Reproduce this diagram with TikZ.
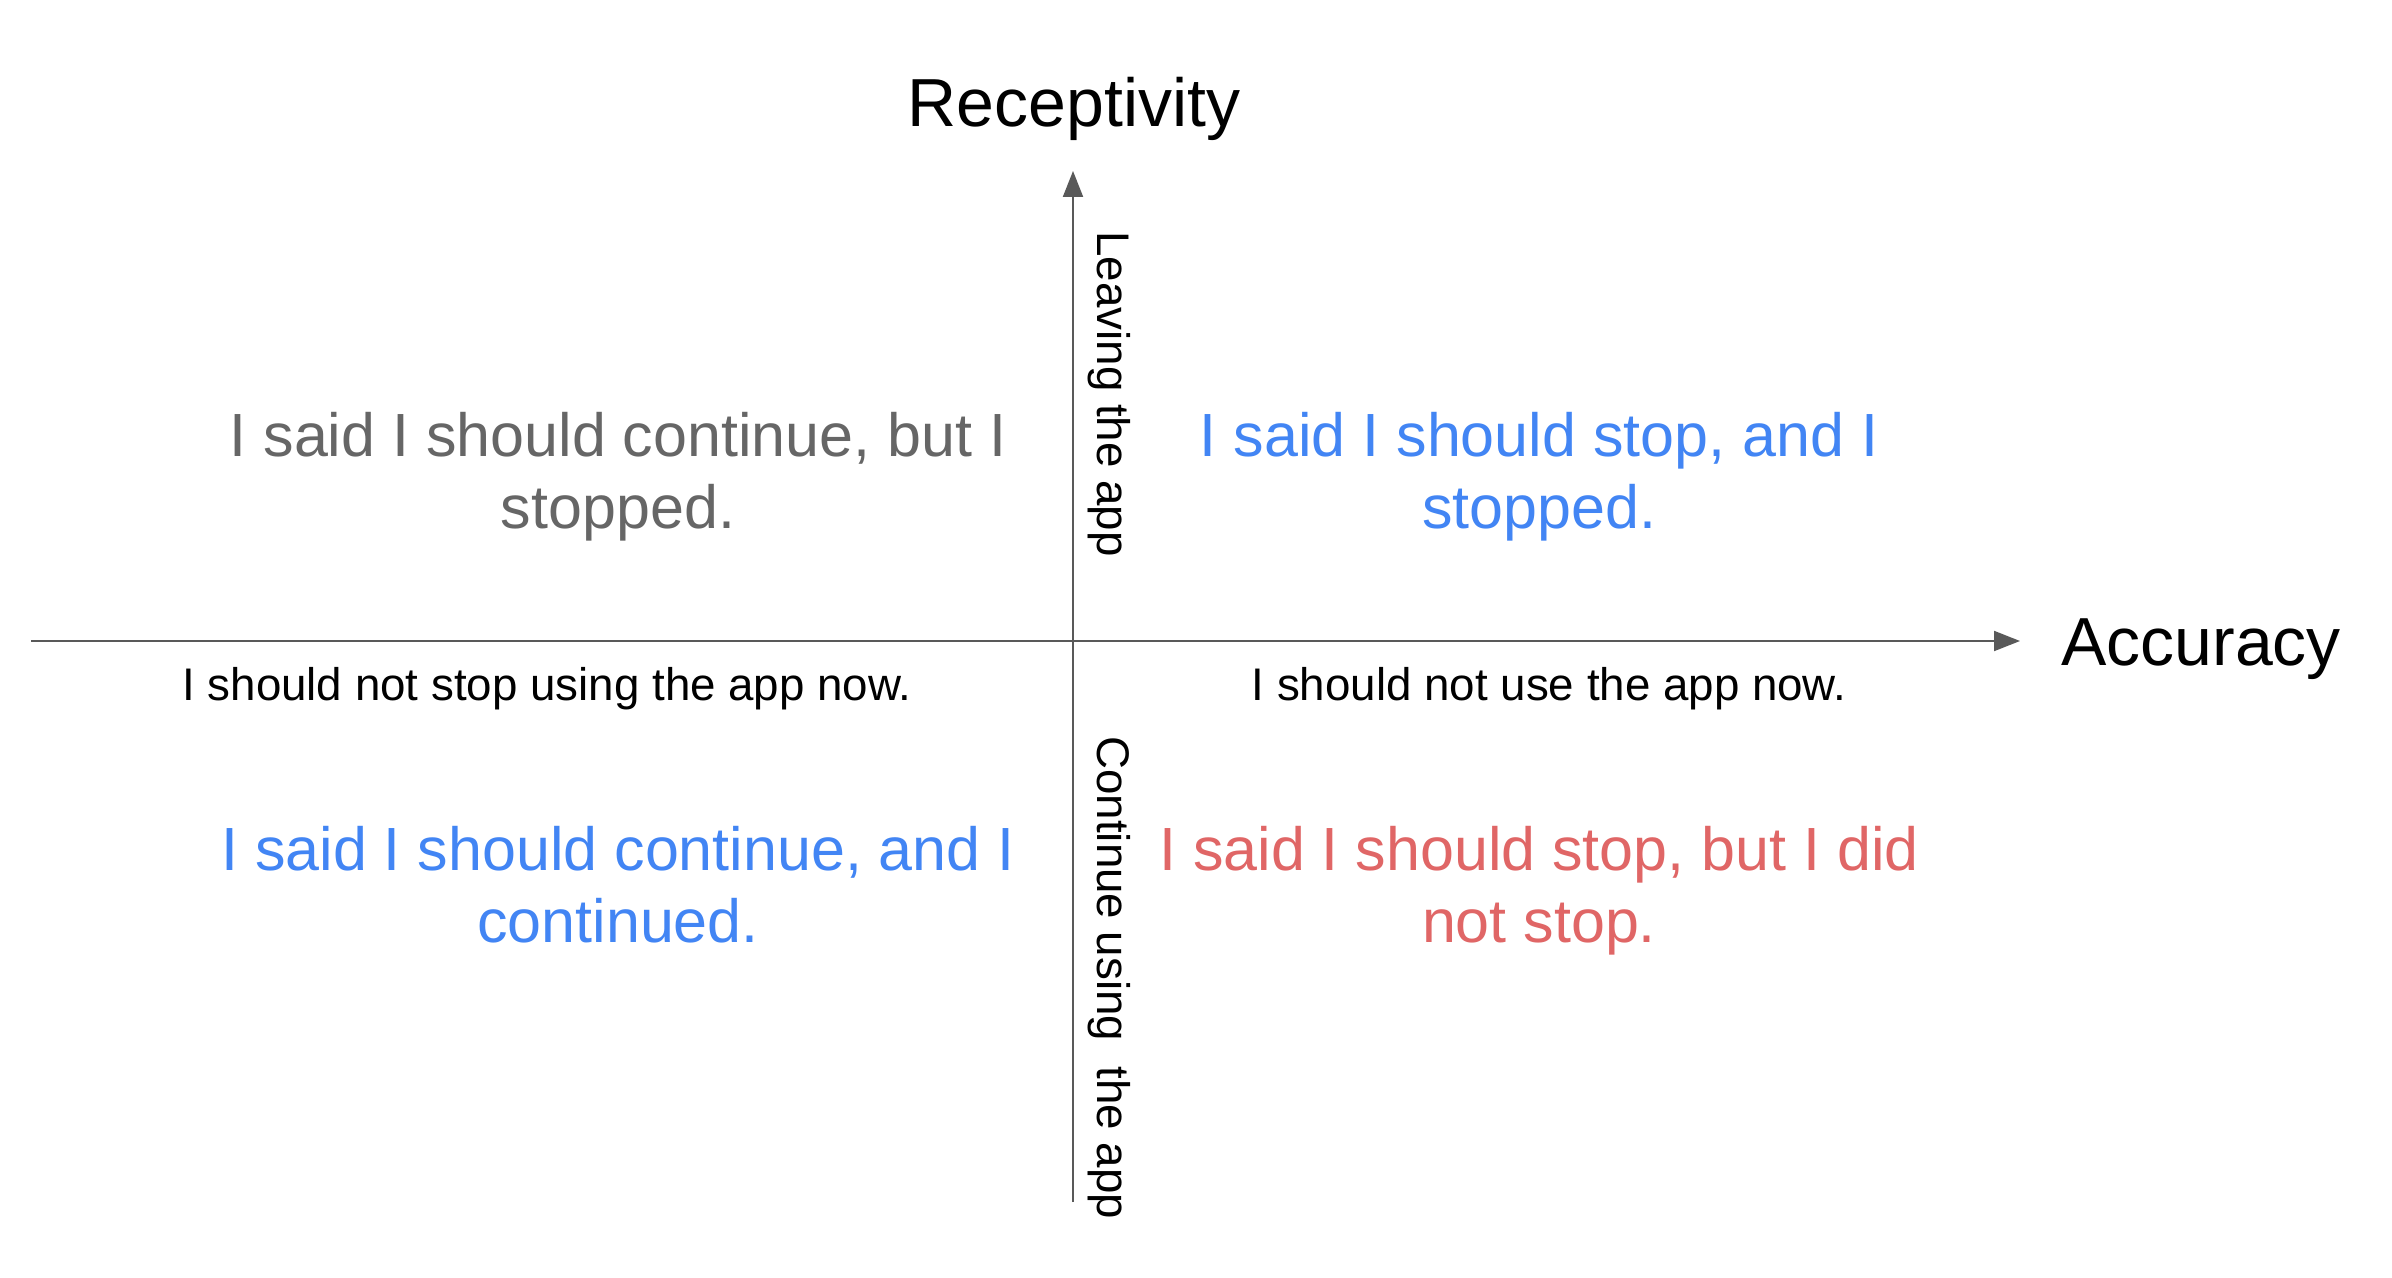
\documentclass[tikz,border=0pt]{standalone}
\usepackage{fontspec}
\setmainfont{Liberation Sans}
\usetikzlibrary{arrows.meta}
\definecolor{axisgray}{HTML}{595959}
\definecolor{quadgray}{HTML}{666666}
\definecolor{quadblue}{HTML}{4285F4}
\definecolor{quadred}{HTML}{E06666}
\tikzset{
  axisline/.style={draw=axisgray, line width=1pt, -{Triangle[length=13pt,width=10pt]}},
  axistitle/.style={inner sep=0pt, anchor=base, font=\fontsize{34pt}{40pt}\selectfont, text=black},
  quadtext/.style={inner sep=0pt, anchor=base, font=\fontsize{30.5pt}{36pt}\selectfont},
  smalltext/.style={inner sep=0pt, anchor=base, font=\fontsize{22.85pt}{27pt}\selectfont, text=black},
  sidelabel/.style={inner sep=0pt, anchor=base west, rotate=-90, font=\fontsize{22.85pt}{27pt}\selectfont, text=black},
}
\newcommand{\twolines}[2]{\setlength{\tabcolsep}{0pt}\renewcommand{\arraystretch}{1}\begin{tabular}[t]{c}#1\\#2\end{tabular}}
\begin{document}
\begin{tikzpicture}[x=0.5pt,y=-0.5pt]
  \useasboundingbox[fill=white] (0,0) rectangle (2392,1278);
  % axes
  \coordinate (hl) at (31,641);
  \coordinate (hr) at (2020,641);
  \coordinate (vb) at (1073,1202);
  \coordinate (vt) at (1073,171);
  \draw[axisline] (hl) -- (hr);
  \draw[axisline] (vb) -- (vt);
  % axis titles
  \node[axistitle] (recep) at (1074,127) {Receptivity};
  \node[axistitle] (accur) at (2201,665) {Accuracy};
  % side labels
  \node[sidelabel] (leave) at (1097,231) {Leaving the app};
  \node[sidelabel] (cont) at (1097,736) {Continue using~ the app};
  % small labels
  \node[smalltext] (nostop) at (547,700) {I should not stop using the app now.};
  \node[smalltext] (nouse) at (1549,700) {I should not use the app now.};
  % quadrant texts
  \node[quadtext, text=quadgray] (q2) at (618,456) {\twolines{I said I should continue, but I}{stopped.}};
  \node[quadtext, text=quadblue] (q1) at (1539,456) {\twolines{I said I should stop, and I}{stopped.}};
  \node[quadtext, text=quadblue] (q3) at (618,870) {\twolines{I said I should continue, and I}{continued.}};
  \node[quadtext, text=quadred] (q4) at (1539,870) {\twolines{I said I should stop, but I did}{not stop.}};
\end{tikzpicture}
\end{document}
